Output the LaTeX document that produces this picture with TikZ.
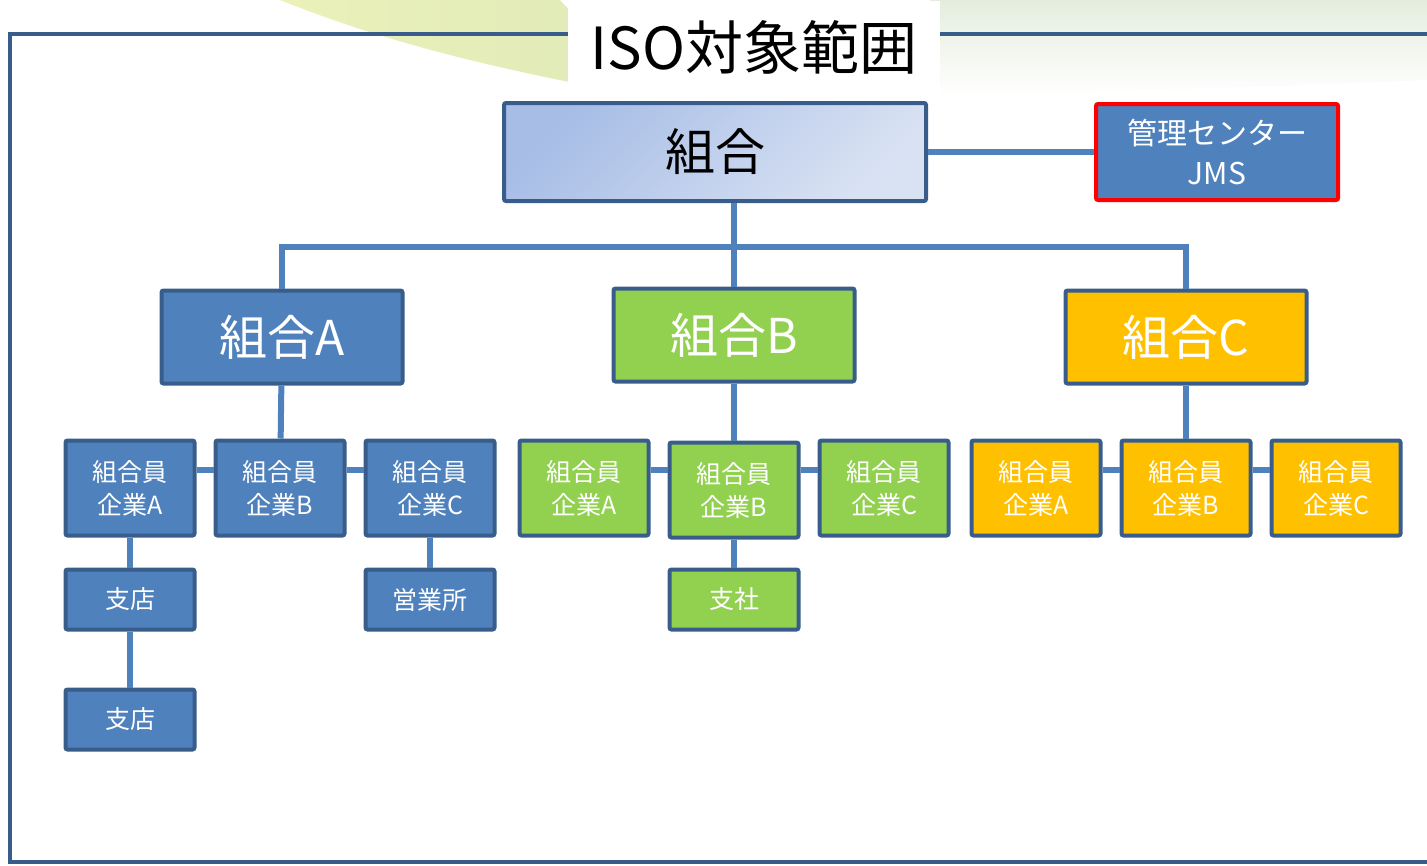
\documentclass[tikz,border=0pt]{standalone}
\usepackage{fontspec}
\setmainfont{Noto Sans CJK JP}
\usepackage{tikz}
\usetikzlibrary{positioning, shapes}
\definecolor{edgeblue}{HTML}{385D8A}
\definecolor{fillblue}{HTML}{4F81BD}
\definecolor{fillgreen}{HTML}{92D050}
\definecolor{fillgold}{HTML}{FFC000}
\definecolor{rootlight}{HTML}{A7BDE6}
\definecolor{rootpale}{HTML}{D9E2F3}
\definecolor{swishyellow}{HTML}{E6EDA8}
\definecolor{swishgreen}{HTML}{D3E2A6}
\definecolor{swishgrey}{HTML}{E4EDDD}
\tikzstyle{box} = [rectangle, draw=edgeblue, line width=4pt, rounded corners=2pt, text=white, align=center]
\tikzstyle{root} = [box, minimum width=422pt, minimum height=98pt, text=black, font=\fontsize{50}{54}\selectfont]
\tikzstyle{center} = [box, fill=fillblue, draw=red, minimum width=242pt, minimum height=96pt, font=\fontsize{30}{40}\selectfont]
\tikzstyle{union} = [box, minimum width=241pt, minimum height=93pt, font=\fontsize{48}{52}\selectfont]
\tikzstyle{member} = [box, minimum width=129pt, minimum height=95pt, font=\fontsize{25}{33}\selectfont]
\tikzstyle{branch} = [box, minimum width=129pt, minimum height=60pt, font=\fontsize{25}{30}\selectfont]
\tikzstyle{link} = [line width=6pt, draw=fillblue]
\tikzstyle{frame} = [line width=4pt, draw=edgeblue]

\begin{document}
\begin{tikzpicture}[x=1pt, y=-1pt, node distance = 17pt]
\useasboundingbox (0,0) rectangle (1427,865);

% background swish
\shade[left color=swishyellow, right color=swishgreen, opacity=0.8] (280,0) .. controls (380,40) and (480,65) .. (600,88) -- (760,88) .. controls (640,55) and (580,25) .. (560,0) -- cycle;
\shade[top color=swishgrey, bottom color=white] (930,0) -- (1427,0) -- (1427,80) .. controls (1250,88) and (1100,92) .. (930,95) -- cycle;

% frame and title
\draw[frame] (1440,34) -- (10,34) -- (10,862) -- (1440,862);
\node(title)[fill=white, minimum width=372pt, minimum height=93pt, font=\fontsize{58}{62}\selectfont] at (754,47) {ISO対象範囲};

% top level
\node(root)[root, top color=rootlight, bottom color=rootpale, shading angle=45] at (715,152) {組合};
\node(jms)[center] at (1217,152) {管理センター\\JMS};

\node(uA)[union, fill=fillblue] at (282,337) {組合A};
\node(uB)[union, fill=fillgreen] at (734,335) {組合B};
\node(uC)[union, fill=fillgold] at (1186,337) {組合C};

% members
\node(mA1)[member, fill=fillblue] at (130,488) {組合員\\企業A};
\node(mA2)[member, fill=fillblue, right = of mA1] {組合員\\企業B};
\node(mA3)[member, fill=fillblue, right = of mA2] {組合員\\企業C};

\node(mB1)[member, fill=fillgreen] at (584,488) {組合員\\企業A};
\node(mB2)[member, fill=fillgreen, right = of mB1, yshift=-2pt] {組合員\\企業B};
\node(mB3)[member, fill=fillgreen, right = of mB2, yshift=2pt] {組合員\\企業C};

\node(mC1)[member, fill=fillgold] at (1036,488) {組合員\\企業A};
\node(mC2)[member, fill=fillgold, right = of mC1] {組合員\\企業B};
\node(mC3)[member, fill=fillgold, right = of mC2] {組合員\\企業C};

% branches
\node(sA1)[branch, fill=fillblue, below = 30pt of mA1] {支店};
\node(sA2)[branch, fill=fillblue, below = 56pt of sA1] {支店};
\node(eA3)[branch, fill=fillblue, below = 30pt of mA3] {営業所};
\node(sB2)[branch, fill=fillgreen, below = 28pt of mB2] {支社};

% connectors
\draw[link] (root) -- (jms);
\coordinate(bar) at (uB.north |- 0,247);
\draw[link] (uB.north |- root.south) -- (uB.north);
\draw[link] (uA.north) |- (bar) -| (uC.north);

\draw[link] (uA) -- (mA2);
\draw[link] (uB) -- (mB2);
\draw[link] (uC) -- (mC2);

\draw[link] ([yshift=18pt]mA1.east) -- ([yshift=18pt]mA2.west);
\draw[link] ([yshift=18pt]mA2.east) -- ([yshift=18pt]mA3.west);
\draw[link] ([yshift=18pt]mB1.east) -- ([yshift=18pt]mB1.east -| mB2.west);
\draw[link] ([yshift=18pt]mB3.west -| mB2.east) -- ([yshift=18pt]mB3.west);
\draw[link] ([yshift=18pt]mC1.east) -- ([yshift=18pt]mC2.west);
\draw[link] ([yshift=18pt]mC2.east) -- ([yshift=18pt]mC3.west);

\draw[link] (mA1) -- (sA1);
\draw[link] (sA1) -- (sA2);
\draw[link] (mA3) -- (eA3);
\draw[link] (mB2) -- (sB2);

\end{tikzpicture}
\end{document}
